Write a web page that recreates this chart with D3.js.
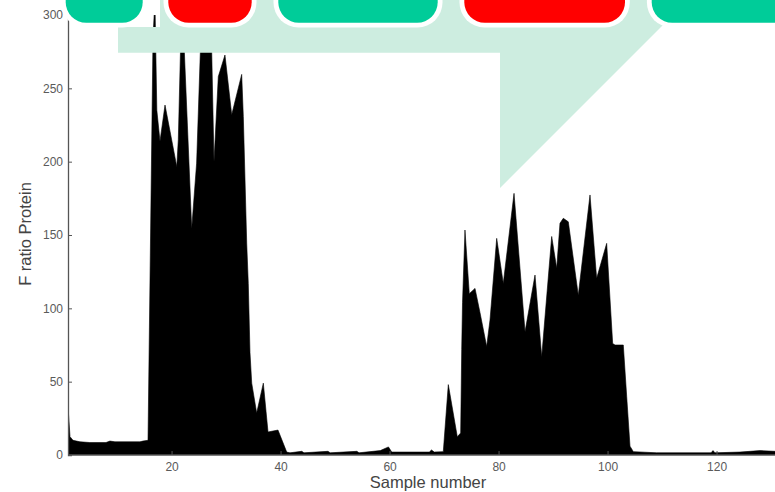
<!DOCTYPE html>
<html><head><meta charset="utf-8">
<script src="https://cdn.jsdelivr.net/npm/d3@7"></script>
<style>html,body{margin:0;padding:0;background:#fff;} svg{display:block;}</style>
</head><body>
<script>
const sampleX = [1,1.37,1.92,3.2,5,7.97,8.7,9.62,14.2,14.76,15.68,16.6,16.95,17.3,17.88,18.8,20.96,21.24,21.9,23.7,24.6,25.6,26.3,27.06,27.37,27.79,28.58,29.8,31.04,32.87,33.17,33.79,34.08,34.39,34.71,35.62,36.84,37.7,39.53,41.13,41.73,43.9,44.3,48.7,49.1,54,54.4,58.3,59.8,60.4,67.3,67.7,68.2,69.86,70.78,72.43,73.05,73.24,73.39,73.84,74.63,75.68,76.6,77.82,78.43,79.66,80.87,82.84,84.86,86.69,87.92,89.75,90.67,91.27,91.88,92.8,94.63,96.78,98,99.84,100.94,101.37,102.89,103.51,104.12,104.73,109,119,119.35,119.7,124.3,128,130.75,132];
const fRatio  = [33,12.5,10,9,8.5,8.5,9.5,9,9,9.5,10,285,310,235,214,238.6,196.6,215,315,154.5,199,310,330,310,275,200,258,272.7,232,259.5,230.7,144.5,117,70,49,28.6,49,15.7,17,2,1.5,2.5,1.5,2.5,1.5,2.5,1.5,3,5.5,2,2,3.4,2,2.3,48,12.5,15,72,104,153.4,110,113.6,97,74,92,147.7,117,178.4,84,122.7,67,149,127.3,158,161.4,159,109,177.3,120.5,144.3,76,75,75,40,6,2.3,1.5,1.5,3,1.5,2,3,2.5,2.5];
const xTicks = [20,40,60,80,100,120];
const yTicks = [0,50,100,150,200,250,300];
const xTitle = "Sample number";
const yTitle = "F ratio Protein";
// Overlay boxes (decoration on top of the chart)
const boxColors = ["#00CC99","#FF0000","#00CC99","#FF0000","#00CC99"];

const W = 775, H = 492;
const svg = d3.select("body").append("svg").attr("width", W).attr("height", H);

const x = d3.scaleLinear().domain([1, 132]).range([68, 68 + 131 * 5.45]);
const y = d3.scaleLinear().domain([0, 300]).range([455, 15]);

const data = sampleX.map((s, i) => ({s, v: fRatio[i]}));

svg.append("defs").append("clipPath").attr("id", "plot")
  .append("rect").attr("x", 68).attr("y", 15).attr("width", 720).attr("height", 440);

const area = d3.area().x(d => x(d.s)).y0(y(0)).y1(d => y(d.v)).curve(d3.curveLinear);
svg.append("path").datum(data).attr("d", area)
  .attr("fill", "#000").attr("stroke", "#000").attr("stroke-width", 0.6)
  .attr("clip-path", "url(#plot)");

const gx = svg.append("g").attr("transform", `translate(0,${y(0)})`)
  .call(d3.axisBottom(x).tickValues(xTicks).tickSize(-4).tickPadding(7).tickFormat(d3.format("d")));
const gy = svg.append("g").attr("transform", `translate(${x(1)},0)`)
  .call(d3.axisLeft(y).tickValues(yTicks).tickSize(-4).tickPadding(5).tickFormat(d3.format("d")));
[gx, gy].forEach(g => {
  g.select(".domain").attr("stroke", "#555").attr("stroke-width", 1.3);
  g.selectAll(".tick line").attr("stroke", "#555");
  g.selectAll(".tick text").attr("fill", "#5a5a5a").attr("font-family", "Liberation Sans, Arial, sans-serif").attr("font-size", 12);
});
gx.select(".domain").attr("d", `M${x(1)},0H${W + 10}`);

svg.append("text").attr("x", 428).attr("y", 488).attr("text-anchor", "middle")
  .attr("font-family", "Liberation Sans, Arial, sans-serif").attr("font-size", 16.5).attr("fill", "#444")
  .text(xTitle);
svg.append("text").attr("transform", "translate(31,234) rotate(-90)").attr("text-anchor", "middle")
  .attr("font-family", "Liberation Sans, Arial, sans-serif").attr("font-size", 16.5).attr("fill", "#444")
  .text(yTitle);

// Callout shape
svg.append("path")
  .attr("d", "M118,27 L160,27 L160,-1 L689,-1 L500,188 L500,52.7 L118,52.7 Z")
  .attr("fill", "#CDEDE0");

// Rounded boxes along the top
const boxes = [[65.7,142.7],[168.3,251.7],[278.3,437.7],[464.3,625],[651.7,840]];
boxes.forEach((b, i) => {
  svg.append("rect").attr("x", b[0] - 4.8).attr("y", -40).attr("width", b[1] - b[0] + 9.6).attr("height", 22.7 + 40 + 4.8)
    .attr("rx", 25).attr("fill", "#fff");
  svg.append("rect").attr("x", b[0]).attr("y", -40).attr("width", b[1] - b[0]).attr("height", 22.7 + 40)
    .attr("rx", 20.5).attr("fill", boxColors[i]);
});
</script>
</body></html>
